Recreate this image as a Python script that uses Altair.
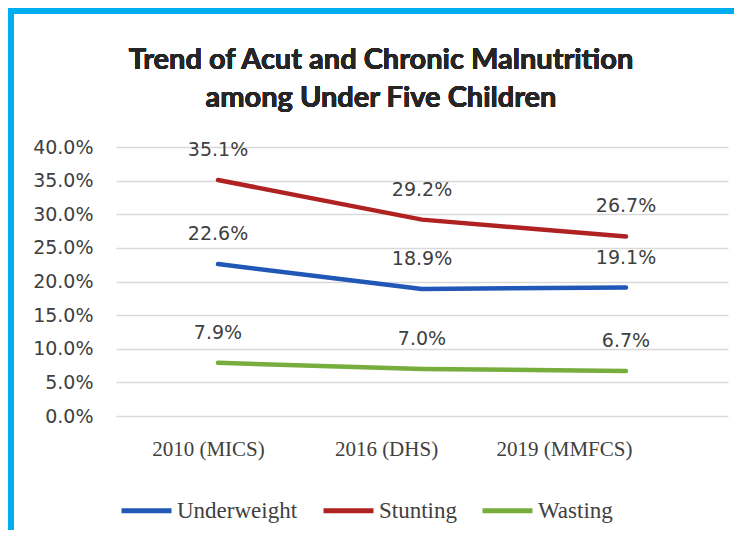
import altair as alt
import pandas as pd

surveys = ["2010 (MICS)", "2016 (DHS)", "2019 (MMFCS)"]
series = ["Underweight", "Stunting", "Wasting"]
underweight = [0.226, 0.189, 0.191]
stunting = [0.351, 0.292, 0.267]
wasting = [0.079, 0.070, 0.067]
colors = ["#2157b6", "#b02222", "#76ad3c"]
y_ticks = [0.0, 0.05, 0.10, 0.15, 0.20, 0.25, 0.30, 0.35, 0.40]
title_lines = ["Trend of Acut and Chronic Malnutrition", "among Under Five Children"]

rows = []
for name, vals in zip(series, [underweight, stunting, wasting]):
    for s, v in zip(surveys, vals):
        rows.append({"survey": s, "series": name, "value": v})
df = pd.DataFrame(rows)

x_axis = alt.Axis(
    title=None,
    domain=False,
    ticks=False,
    grid=False,
    labelAngle=0,
    labelFont="Liberation Serif",
    labelFontSize=21,
    labelColor="#404040",
    labelPadding=22,
    labelOffset={
        "condition": [
            {"test": "datum.value == '2010 (MICS)'", "value": -10},
            {"test": "datum.value == '2016 (DHS)'", "value": -36},
        ],
        "value": -62,
    },
)
y_axis = alt.Axis(
    title=None,
    format=".1%",
    values=y_ticks,
    labelOverlap=False,
    domain=False,
    ticks=False,
    grid=True,
    labelFont="DejaVu Sans",
    labelFontSize=19,
    labelColor="#404040",
    labelPadding=23,
    gridColor="#d9d9d9",
    gridWidth=1.5,
)
x_scale = alt.Scale(type="point", padding=0.5)
y_scale = alt.Scale(domain=[0, 0.4], nice=False)

lines = alt.Chart(df).mark_line(
    strokeWidth=4.5, strokeCap="round", strokeJoin="round"
).encode(
    x=alt.X("survey:N", sort=surveys, scale=x_scale, axis=x_axis),
    y=alt.Y("value:Q", scale=y_scale, axis=y_axis),
    color=alt.Color(
        "series:N",
        sort=series,
        scale=alt.Scale(domain=series, range=colors),
        legend=alt.Legend(
            title=None,
            orient="none",
            direction="horizontal",
            legendX=3,
            legendY=336,
            symbolType="stroke",
            symbolSize=2500,
            symbolStrokeWidth=5,
            labelFont="Liberation Serif",
            labelFontSize=23,
            labelColor="#404040",
            labelOffset=3,
            columnPadding=15,
        ),
    ),
)

labels = alt.Chart(df).mark_text(
    dy=-30, font="DejaVu Sans", fontSize=19, color="#404040"
).encode(
    x=alt.X("survey:N", sort=surveys, scale=x_scale, axis=x_axis),
    y=alt.Y("value:Q", scale=y_scale, axis=y_axis),
    text=alt.Text("value:Q", format=".1%"),
)

title1 = alt.Chart(df).mark_text(
    font="Lato", fontSize=29, fontWeight="bold", color="#262626",
    align="center", baseline="middle",
).encode(x=alt.value(265), y=alt.value(-87), text=alt.value(title_lines[0]))
title2 = alt.Chart(df).mark_text(
    font="Lato", fontSize=29, fontWeight="bold", color="#262626",
    align="center", baseline="middle",
).encode(x=alt.value(265), y=alt.value(-49), text=alt.value(title_lines[1]))

top_border = alt.Chart(df).mark_rule(color="#00aeef", strokeWidth=6).encode(
    x=alt.value(-110), x2=alt.value(630), y=alt.value(-136)
)
left_border = alt.Chart(df).mark_rule(color="#00aeef", strokeWidth=6).encode(
    x=alt.value(-105), y=alt.value(-139), y2=alt.value(390)
)

chart = alt.layer(lines, labels, title1, title2, top_border, left_border).properties(
    width=612,
    height=269,
    background="white",
    autosize=alt.AutoSizeParams(type="none"),
    padding={"left": 108, "top": 139, "right": 6, "bottom": 114},
).configure_view(strokeWidth=0)

chart.save("out.html", embed_options={"renderer": "svg", "actions": False})
